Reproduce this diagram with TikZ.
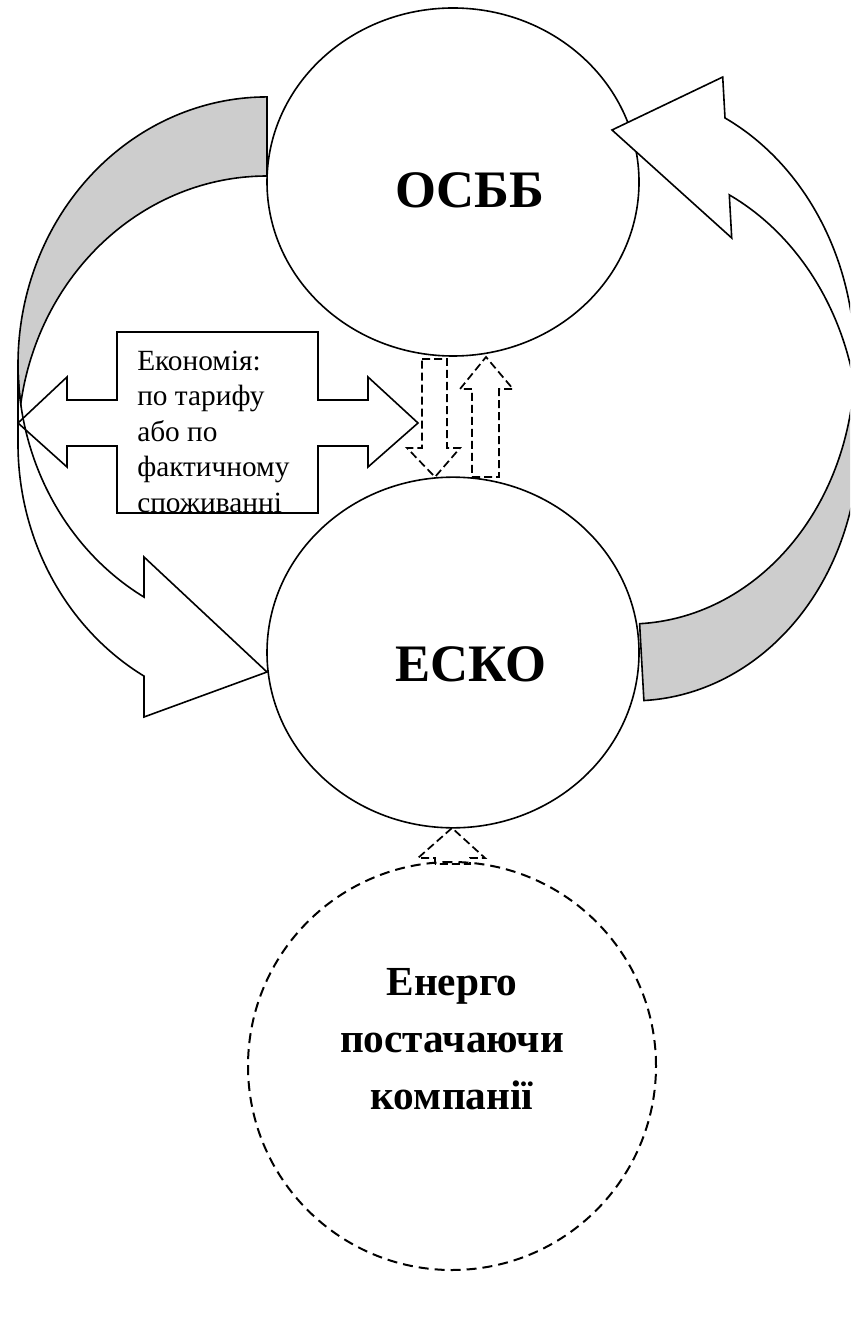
\documentclass[tikz,border=0pt]{standalone}
\usepackage{fontspec}
\setmainfont{Liberation Serif}
\usetikzlibrary{shapes.geometric}
\definecolor{bandgray}{RGB}{205,205,205}
\begin{document}
\begin{tikzpicture}[x=0.75pt, y=-0.75pt,
  outl/.style={draw=black, line width=1.2pt, line join=miter},
  dsh/.style={draw=black, line width=1.3pt, dash pattern=on 6pt off 3pt, line join=miter},
  ring/.style={ellipse, draw=black, line width=1.2pt, fill=white, inner sep=0pt, outer sep=0pt},
  dring/.style={ellipse, draw=black, line width=1.5pt, dash pattern=on 7.5pt off 4.5pt, inner sep=0pt, outer sep=0pt},
  big/.style={font=\bfseries\fontsize{39.5}{44}\selectfont, inner sep=0pt, anchor=base},
  mid/.style={font=\bfseries\fontsize{31}{36}\selectfont, inner sep=0pt, anchor=base},
  small/.style={font=\fontsize{22}{26}\selectfont, inner sep=0pt, anchor=base west},
  front/.style={fill=white, draw=black, line width=1.2pt, line join=miter},
  back/.style={fill=bandgray, draw=black, line width=1.2pt, line join=miter}
]
\useasboundingbox (0,0) rectangle (850,1326);
\clip (0,0) rectangle (850,1326);

% circles
\node[ring, minimum width=279pt, minimum height=261pt] (osbb) at (453,182) {};
\node[ring, minimum width=279pt, minimum height=263pt] (esko) at (453,652.5) {};
\node[dring, minimum width=306pt, minimum height=306pt] (energo) at (452,1066) {};

% left curved arrow (tip at ESKO)
\begin{scope}[shift={(267,672)}]
  \path[back] (0,-496) arc[start angle=270, end angle=188.5, x radius=249, y radius=267.5]
    arc[start angle=171.5, end angle=270, x radius=249, y radius=267.5] -- cycle;
  \path[front] (-249,-307.5) arc[start angle=180, end angle=119.6, x radius=249, y radius=267.5]
    -- (-123,-115) -- (0,0) -- (-123,45) -- (-123,4.1)
    arc[start angle=119.6, end angle=180, x radius=249, y radius=267.5] -- cycle;
\end{scope}

% right curved arrow (tip at OSBB)
\begin{scope}[shift={(612,130)}, rotate=183.2]
  \path[back] (0,-494.5) arc[start angle=270, end angle=188.27, x radius=230, y radius=267.5]
    arc[start angle=171.73, end angle=270, x radius=230, y radius=267.5] -- cycle;
  \path[front] (-230,-304) arc[start angle=180, end angle=119.57, x radius=230, y radius=267.5]
    -- (-113.5,-114.5) -- (0,0) -- (-113.5,46.7) -- (-113.5,5.7)
    arc[start angle=119.57, end angle=180, x radius=230, y radius=267.5] -- cycle;
\end{scope}

% left-right callout
\draw[outl] (18,423) -- (67,377) -- (67,400) -- (117,400) -- (117,332) -- (318,332)
  -- (318,400) -- (368,400) -- (368,377) -- (418,423) -- (368,467) -- (368,446)
  -- (318,446) -- (318,513) -- (117,513) -- (117,446) -- (67,446) -- (67,467) -- cycle;
\node[small] (l1) at (137,370) {Економія:};
\node[small] (l2) at (137,405.5) {по тарифу};
\node[small] (l3) at (137,441) {або по};
\node[small] (l4) at (137,476.5) {фактичному};
\node[small] (l5) at (137,512) {споживанні};

% dashed block arrows
\draw[dsh] (422,359) -- (447,359) -- (447,448) -- (460,448) -- (435,477) -- (407,448) -- (422,448) -- cycle;
\draw[dsh] (472,477) -- (499,477) -- (499,389) -- (513,389) -- (486,357) -- (460,389) -- (472,389) -- cycle;
\draw[dsh] (435,864) -- (435,858) -- (418,858) -- (452,828) -- (485,858) -- (470,858) -- (470,864) -- cycle;

% labels
\node[big] (tosbb) at (470,208) {ОСББ};
\node[big] (tesko) at (471,681) {ЕСКО};
\node[mid] (te1) at (452,995) {Енерго};
\node[mid] (te2) at (452,1052) {постачаючи};
\node[mid] (te3) at (452,1109) {компанії};
\end{tikzpicture}
\end{document}
